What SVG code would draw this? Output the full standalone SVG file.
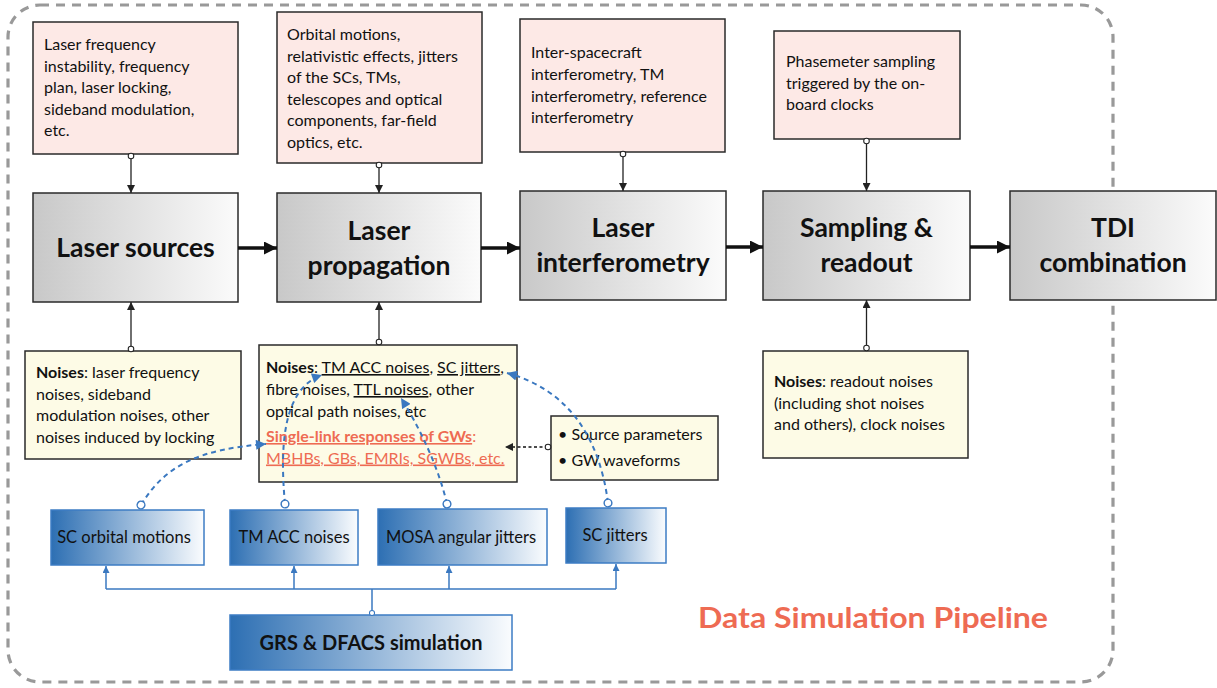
<svg xmlns="http://www.w3.org/2000/svg" width="1217" height="688" viewBox="0 0 1217 688">
<style>
text{font-family:Lato,"Noto Sans","Liberation Sans",sans-serif;fill:#111}
.pink{fill:#fde9e6;stroke:#2a2a2a;stroke-width:1.5}
.cream{fill:#fdfbe6;stroke:#2a2a2a;stroke-width:1.5}
.gray{fill:url(#gGray);stroke:#2a2a2a;stroke-width:1.5}
.blue{fill:url(#gBlue);stroke:#3d7cc4;stroke-width:1.5}
.t15{font-size:16px}
.head{font-size:26.5px;font-weight:700;text-anchor:middle}
.b{font-weight:700}
.u{text-decoration:underline}
.red{fill:#ee6b53}
.thin{stroke:#222;stroke-width:1.3;fill:none}
.thick{stroke:#111;stroke-width:3.5;fill:none}
.bdash{stroke:#3a78c0;stroke-width:2;stroke-dasharray:5 4;fill:none}
.bsolid{stroke:#3a78c0;stroke-width:1.5;fill:none}
.btxt{font-size:16.5px;text-anchor:middle}
</style>
<defs>
<linearGradient id="gGray" x1="0" y1="0" x2="1" y2="0">
<stop offset="0" stop-color="#c8c8c8"/><stop offset="1" stop-color="#fbfbfb"/>
</linearGradient>
<linearGradient id="gBlue" x1="0" y1="0" x2="1" y2="0">
<stop offset="0" stop-color="#2d6fb3"/><stop offset="1" stop-color="#fafcfe"/>
</linearGradient>
<marker id="aS" viewBox="0 0 10 10" refX="10" refY="5" markerWidth="8" markerHeight="8" markerUnits="userSpaceOnUse" orient="auto">
<path d="M0,0 L10,5 L0,10 z" fill="#222"/>
</marker>
<marker id="cS" viewBox="-5 -5 10 10" refX="0" refY="0" markerWidth="8" markerHeight="8" markerUnits="userSpaceOnUse" orient="auto">
<circle r="3.5" fill="#fff" stroke="#222" stroke-width="1.3"/>
</marker>
<marker id="aB" viewBox="0 0 10 10" refX="10" refY="5" markerWidth="13" markerHeight="13" markerUnits="userSpaceOnUse" orient="auto">
<path d="M0,0 L10,5 L0,10 z" fill="#111"/>
</marker>
<marker id="aBl" viewBox="0 0 10 10" refX="10" refY="5" markerWidth="11" markerHeight="10" markerUnits="userSpaceOnUse" orient="auto">
<path d="M0,0 L10,5 L0,10 z" fill="#3a78c0"/>
</marker>
<marker id="aBs" viewBox="0 0 10 10" refX="10" refY="5" markerWidth="7" markerHeight="7" markerUnits="userSpaceOnUse" orient="auto">
<path d="M0,0 L10,5 L0,10 z" fill="#3a78c0"/>
</marker>
<marker id="cB" viewBox="-6 -6 12 12" refX="0" refY="0" markerWidth="11" markerHeight="11" markerUnits="userSpaceOnUse" orient="auto">
<circle r="4.2" fill="#fff" stroke="#3a78c0" stroke-width="1.6"/>
</marker>
<marker id="cBs" viewBox="-5 -5 10 10" refX="0" refY="0" markerWidth="8" markerHeight="8" markerUnits="userSpaceOnUse" orient="auto">
<circle r="3.2" fill="#fff" stroke="#3a78c0" stroke-width="1.3"/>
</marker>
</defs>

<rect id="frame" x="8" y="5" width="1105" height="677" rx="32" fill="none" stroke="#999" stroke-width="3.2" stroke-dasharray="9 7"/>

<g id="pink1"><rect class="pink" x="33" y="22" width="205" height="132"/>
<text class="t15"><tspan x="44" y="50">Laser frequency</tspan><tspan x="44" y="71.5">instability, frequency</tspan><tspan x="44" y="93">plan, laser locking,</tspan><tspan x="44" y="114.5">sideband modulation,</tspan><tspan x="44" y="136">etc.</tspan></text></g>

<g id="pink2"><rect class="pink" x="277" y="12" width="205" height="151"/>
<text class="t15"><tspan x="287" y="40">Orbital motions,</tspan><tspan x="287" y="61.5">relativistic effects, jitters</tspan><tspan x="287" y="83">of the SCs, TMs,</tspan><tspan x="287" y="104.5">telescopes and optical</tspan><tspan x="287" y="126">components, far-field</tspan><tspan x="287" y="147.5">optics, etc.</tspan></text></g>

<g id="pink3"><rect class="pink" x="520" y="19" width="205" height="133"/>
<text class="t15"><tspan x="531" y="58">Inter-spacecraft</tspan><tspan x="531" y="80">interferometry, TM</tspan><tspan x="531" y="102">interferometry, reference</tspan><tspan x="531" y="123">interferometry</tspan></text></g>

<g id="pink4"><rect class="pink" x="774" y="31" width="186" height="108"/>
<text class="t15"><tspan x="786" y="67">Phasemeter sampling</tspan><tspan x="786" y="88.5">triggered by the on-</tspan><tspan x="786" y="110">board clocks</tspan></text></g>

<g id="laserSources"><rect class="gray" x="33" y="193" width="205" height="109"/>
<text class="head" x="135.5" y="257">Laser sources</text></g>
<g id="laserPropagation"><rect class="gray" x="277" y="193" width="204" height="109"/>
<text class="head"><tspan x="379" y="240">Laser</tspan><tspan x="379" y="275">propagation</tspan></text></g>
<g id="laserInterferometry"><rect class="gray" x="520" y="191" width="206" height="109"/>
<text class="head"><tspan x="623" y="237">Laser</tspan><tspan x="623" y="272">interferometry</tspan></text></g>
<g id="sampling"><rect class="gray" x="763" y="191" width="207" height="109"/>
<text class="head"><tspan x="866.5" y="237">Sampling &amp;</tspan><tspan x="866.5" y="272">readout</tspan></text></g>
<g id="tdi"><rect class="gray" x="1010" y="191" width="206" height="109"/>
<text class="head"><tspan x="1113" y="237">TDI</tspan><tspan x="1113" y="272">combination</tspan></text></g>

<g id="noise1"><rect class="cream" x="25" y="351" width="216" height="108"/>
<text class="t15"><tspan x="36" y="378"><tspan class="b">Noises</tspan>: laser frequency</tspan><tspan x="36" y="399.5">noises, sideband</tspan><tspan x="36" y="421">modulation noises, other</tspan><tspan x="36" y="442.5">noises induced by locking</tspan></text></g>

<g id="noise2"><rect class="cream" x="259" y="345" width="258" height="137"/>
<text class="t15"><tspan x="266" y="373"><tspan class="b">Noises</tspan>: <tspan class="u">TM ACC noises</tspan>, <tspan class="u">SC jitters</tspan>,</tspan><tspan x="266" y="395">fibre noises, <tspan class="u">TTL noises</tspan>, other</tspan><tspan x="266" y="416.5">optical path noises, etc</tspan><tspan x="266" y="442" class="red"><tspan class="b u red">Single-link responses of GWs</tspan>:</tspan><tspan x="266" y="463.5" class="u red">MBHBs, GBs, EMRIs, SGWBs, etc.</tspan></text></g>

<g id="noise3"><rect class="cream" x="763" y="351" width="205" height="107"/>
<text class="t15"><tspan x="774" y="387"><tspan class="b">Noises</tspan>: readout noises</tspan><tspan x="774" y="408.5">(including shot noises</tspan><tspan x="774" y="430">and others), clock noises</tspan></text></g>

<g id="sourceParams"><rect class="cream" x="551" y="416" width="167" height="64"/>
<text class="t15"><tspan x="558" y="440">• Source parameters</tspan><tspan x="558" y="466">• GW waveforms</tspan></text></g>

<g id="scOrbital"><rect class="blue" x="51" y="510" width="153" height="55"/><text class="btxt" x="124" y="543">SC orbital motions</text></g>
<g id="tmAcc"><rect class="blue" x="230" y="510" width="128" height="55"/><text class="btxt" x="294" y="543">TM ACC noises</text></g>
<g id="mosa"><rect class="blue" x="378" y="509" width="169" height="56"/><text class="btxt" x="461" y="543">MOSA angular jitters</text></g>
<g id="scJitters"><rect class="blue" x="566" y="508" width="100" height="55"/><text class="btxt" x="615" y="541">SC jitters</text></g>
<g id="grs"><rect class="blue" x="230" y="615" width="282" height="55"/><text x="371" y="650" style="font-size:20px;font-weight:700;text-anchor:middle">GRS &amp; DFACS simulation</text></g>

<text id="title" x="698" y="628" textLength="350" lengthAdjust="spacingAndGlyphs" style="font-size:29px;font-weight:700;fill:#ee6b53">Data Simulation Pipeline</text>

<g id="connectors">
<line class="thin" x1="131" y1="156" x2="131" y2="193" marker-start="url(#cS)" marker-end="url(#aS)"/>
<line class="thin" x1="379" y1="165" x2="379" y2="193" marker-start="url(#cS)" marker-end="url(#aS)"/>
<line class="thin" x1="623" y1="154" x2="623" y2="191" marker-start="url(#cS)" marker-end="url(#aS)"/>
<line class="thin" x1="866.5" y1="141" x2="866.5" y2="191" marker-start="url(#cS)" marker-end="url(#aS)"/>
<line class="thin" x1="131" y1="349" x2="131" y2="302" marker-start="url(#cS)" marker-end="url(#aS)"/>
<line class="thin" x1="379" y1="342" x2="379" y2="302" marker-start="url(#cS)" marker-end="url(#aS)"/>
<line class="thin" x1="866.5" y1="348" x2="866.5" y2="300" marker-start="url(#cS)" marker-end="url(#aS)"/>
<line class="thick" x1="238" y1="248" x2="277" y2="248" marker-end="url(#aB)"/>
<line class="thick" x1="481" y1="248" x2="520" y2="248" marker-end="url(#aB)"/>
<line class="thick" x1="726" y1="247" x2="763" y2="247" marker-end="url(#aB)"/>
<line class="thick" x1="970" y1="247" x2="1010" y2="247" marker-end="url(#aB)"/>
<line x1="548" y1="447" x2="505" y2="447" stroke="#111" stroke-width="1.5" stroke-dasharray="3 2.5" marker-start="url(#cS)" marker-end="url(#aS)"/>
<path class="bsolid" d="M372,613 L372,589"  marker-start="url(#cBs)"/>
<path class="bsolid" d="M106,589 L616,589"/>
<line class="bsolid" x1="106" y1="589" x2="106" y2="566" marker-end="url(#aBs)"/>
<line class="bsolid" x1="294" y1="589" x2="294" y2="566" marker-end="url(#aBs)"/>
<line class="bsolid" x1="449" y1="589" x2="449" y2="566" marker-end="url(#aBs)"/>
<line class="bsolid" x1="616" y1="589" x2="616" y2="564" marker-end="url(#aBs)"/>
<path class="bdash" d="M141,505 C165,465 200,449 266,444" marker-start="url(#cB)" marker-end="url(#aBl)"/>
<path class="bdash" d="M285,504 C279,440 285,388 322,375" marker-start="url(#cB)" marker-end="url(#aBl)"/>
<path class="bdash" d="M447,504 C438,465 418,425 401,398" marker-start="url(#cB)" marker-end="url(#aBl)"/>
<path class="bdash" d="M608,503 C600,440 570,390 507,373" marker-start="url(#cB)" marker-end="url(#aBl)"/>
</g>
</svg>
